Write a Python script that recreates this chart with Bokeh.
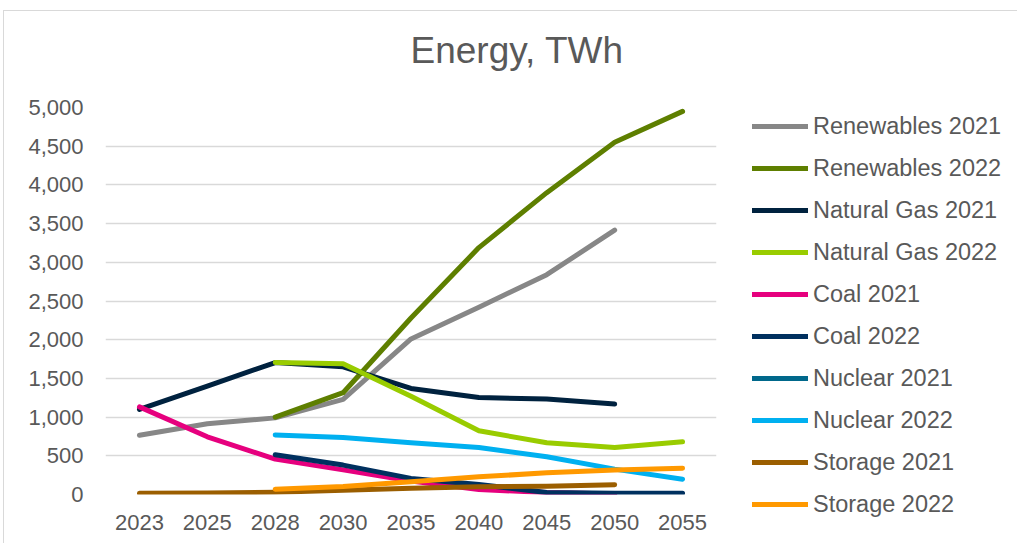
from bokeh.plotting import figure
from bokeh.models import Legend, LegendItem, Title, FixedTicker, NumeralTickFormatter, FactorRange, Range1d
from bokeh.embed import file_html
from bokeh.resources import INLINE

nan = float("nan")
years = ["2023", "2025", "2028", "2030", "2035", "2040", "2045", "2050", "2055"]

renewables_2021 = [765, 915, 990, 1230, 2010, 2420, 2840, 3415, nan]
renewables_2022 = [nan, nan, 1000, 1315, 2280, 3190, 3900, 4550, 4950]
natural_gas_2021 = [1100, 1400, 1705, 1650, 1370, 1252, 1233, 1168, nan]
natural_gas_2022 = [nan, nan, 1705, 1690, 1270, 823, 668, 606, 681]
coal_2021 = [1132, 746, 457, 318, 175, 65, 25, 5, nan]
coal_2022 = [nan, nan, 513, 380, 208, 130, 26, 17, 17]
nuclear_2021 = [nan, nan, nan, nan, nan, nan, nan, nan, nan]
nuclear_2022 = [nan, nan, 770, 737, 668, 608, 487, 328, 198]
storage_2021 = [17, 20, 30, 55, 82, 99, 108, 125, nan]
storage_2022 = [nan, nan, 69, 103, 164, 228, 280, 315, 340]

series_names = ["Renewables 2021", "Renewables 2022", "Natural Gas 2021", "Natural Gas 2022",
                "Coal 2021", "Coal 2022", "Nuclear 2021", "Nuclear 2022", "Storage 2021", "Storage 2022"]
series_values = [renewables_2021, renewables_2022, natural_gas_2021, natural_gas_2022,
                 coal_2021, coal_2022, nuclear_2021, nuclear_2022, storage_2021, storage_2022]
series_colors = ["#878787", "#5E7F00", "#00223F", "#99CC00", "#E6007E",
                 "#00305F", "#00688B", "#00B0F0", "#9B5E00", "#FF9900"]

yticks = [0, 500, 1000, 1500, 2000, 2500, 3000, 3500, 4000, 4500, 5000]
title_text = "Energy, TWh"

FONT = "Liberation Sans"
TXT = "#595959"

p = figure(frame_width=611, frame_height=387, x_range=FactorRange(*years), y_range=Range1d(0, 5000),
           output_backend="svg", toolbar_location=None,
           min_border_left=101, min_border_right=300, min_border_top=96, min_border_bottom=49)
p.styles = {"margin-left": "3px", "margin-top": "10px",
            "border-left": "1px solid #d9d9d9", "border-top": "1px solid #d9d9d9"}
p.outline_line_color = None
p.xgrid.grid_line_color = None
p.ygrid.grid_line_color = "#d9d9d9"
p.ygrid.grid_line_width = 1.5
p.yaxis.ticker = FixedTicker(ticks=yticks)
p.yaxis.formatter = NumeralTickFormatter(format="0,0")
for ax in (p.xaxis, p.yaxis):
    ax.axis_line_color = None
    ax.major_tick_line_color = None
    ax.minor_tick_line_color = None
    ax.major_label_text_font = FONT
    ax.major_label_text_font_size = "22px"
    ax.major_label_text_color = TXT
p.yaxis.major_label_standoff = 16
p.xaxis.major_label_standoff = 14

items = []
for name, vals, col in zip(series_names, series_values, series_colors):
    r = p.line(x=years, y=vals, line_color=col, line_width=5, line_cap="round", line_join="round")
    items.append(LegendItem(label=name, renderers=[r]))

legend = Legend(items=items, location=(36, -25), glyph_width=56, glyph_height=30,
                label_height=30, spacing=12, label_standoff=5, padding=0, margin=0,
                label_text_font=FONT, label_text_font_size="23.5px", label_text_color=TXT,
                border_line_color=None, background_fill_alpha=0)
p.add_layout(legend, "right")

spacer = Title(text=" ", text_font_size="1px", standoff=34)
p.add_layout(spacer, "above")
p.title = Title(text=title_text, align="left", offset=305, standoff=0,
                text_font=FONT, text_font_size="37px", text_font_style="normal", text_color=TXT)

open("out.html", "w").write(file_html(p, INLINE))
